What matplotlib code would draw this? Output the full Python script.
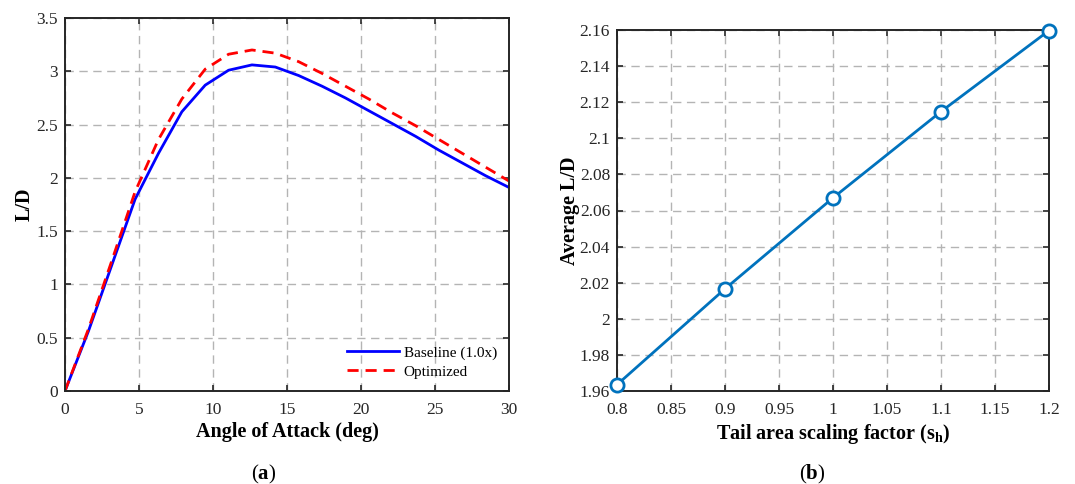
import matplotlib

matplotlib.use("Agg")
import matplotlib.pyplot as plt
import numpy as np

plt.rcParams["font.family"] = ["Liberation Serif", "DejaVu Serif"]
plt.rcParams["mathtext.fontset"] = "custom"
plt.rcParams["mathtext.rm"] = "Liberation Serif"
plt.rcParams["mathtext.bf"] = "Liberation Serif:bold"

# (a) lift-to-drag ratio against angle of attack
aoa_deg = np.linspace(0, 30, 20)
ld_baseline = [0.0, 0.56, 1.18, 1.80, 2.23, 2.62, 2.87, 3.01, 3.06, 3.04,
               2.96, 2.86, 2.75, 2.63, 2.51, 2.39, 2.26, 2.14, 2.02, 1.91]
ld_optimized = [0.0, 0.58, 1.22, 1.87, 2.36, 2.74, 3.02, 3.16, 3.20, 3.17,
                3.09, 2.98, 2.86, 2.74, 2.61, 2.49, 2.36, 2.23, 2.10, 1.97]

# (b) average L/D against tail area scaling factor
tail_scale = [0.8, 0.9, 1.0, 1.1, 1.2]
avg_ld = [1.9635, 2.0166, 2.0670, 2.1148, 2.1597]

x_ticks_a = [0, 5, 10, 15, 20, 25, 30]
y_ticks_a = [0, 0.5, 1, 1.5, 2, 2.5, 3, 3.5]
x_ticks_b = [0.8, 0.85, 0.9, 0.95, 1.0, 1.05, 1.1, 1.15, 1.2]
y_ticks_b = [1.96, 1.98, 2.0, 2.02, 2.04, 2.06, 2.08, 2.1, 2.12, 2.14, 2.16]


def fmt(v):
    return f"{v:g}"


def style_axes(ax):
    ax.grid(True, color="#b4b4b4", linestyle=(0, (6, 4)), linewidth=1.0)
    ax.set_axisbelow(True)
    ax.tick_params(direction="in", top=True, right=True, labelsize=12.5,
                   length=4, width=1.2, colors="#262626")
    ax.tick_params(axis="x", pad=8)
    ax.tick_params(axis="y", pad=5)
    for sp in ax.spines.values():
        sp.set_linewidth(1.4)
        sp.set_color("#262626")


fig = plt.figure(figsize=(10.75, 4.84), dpi=100)

ax1 = fig.add_axes([65 / 1075, 93 / 484, 444 / 1075, 373 / 484])
ax1.plot(aoa_deg, ld_baseline, color="#0000ff", lw=2.0, label="Baseline (1.0x)")
ax1.plot(aoa_deg, ld_optimized, color="#ff0000", lw=2.0, linestyle=(0, (4, 2.5)),
         label="Optimized")
ax1.set_xlim(0, 30)
ax1.set_ylim(0, 3.5)
ax1.set_xticks(x_ticks_a)
ax1.set_xticklabels([fmt(v) for v in x_ticks_a])
ax1.set_yticks(y_ticks_a)
ax1.set_yticklabels([fmt(v) for v in y_ticks_a])
style_axes(ax1)
ax1.set_xlabel("Angle of Attack (deg)", fontsize=14.5, fontweight="bold", labelpad=3)
ax1.set_ylabel("L/D", fontsize=14.5, fontweight="bold", labelpad=1)
ax1.legend(loc="lower right", frameon=False, fontsize=11, handlelength=3.4,
           handletextpad=0.3, labelspacing=0.35, borderaxespad=0.4)

ax2 = fig.add_axes([617 / 1075, 93 / 484, 432 / 1075, 361 / 484])
ax2.plot(tail_scale, avg_ld, color="#0072bd", lw=2.0, marker="o", markersize=9.5,
         markerfacecolor="white", markeredgewidth=2.0, clip_on=False, zorder=5)
ax2.set_xlim(0.8, 1.2)
ax2.set_ylim(1.96, 2.16)
ax2.set_xticks(x_ticks_b)
ax2.set_xticklabels([fmt(v) for v in x_ticks_b])
ax2.set_yticks(y_ticks_b)
ax2.set_yticklabels([fmt(round(v, 2)) for v in y_ticks_b])
style_axes(ax2)
ax2.set_xlabel(r"Tail area scaling factor (s$_\mathbf{h}$)", fontsize=14.5,
               fontweight="bold", labelpad=3)
ax2.set_ylabel("Average L/D", fontsize=14.5, fontweight="bold", labelpad=0)

fig.text(264 / 1075, 1 - 474 / 484, r"($\mathbf{a}$)", fontsize=15, ha="center",
         va="center")
fig.text(812 / 1075, 1 - 474 / 484, r"($\mathbf{b}$)", fontsize=15, ha="center",
         va="center")

fig.savefig("out.png", dpi=100)
